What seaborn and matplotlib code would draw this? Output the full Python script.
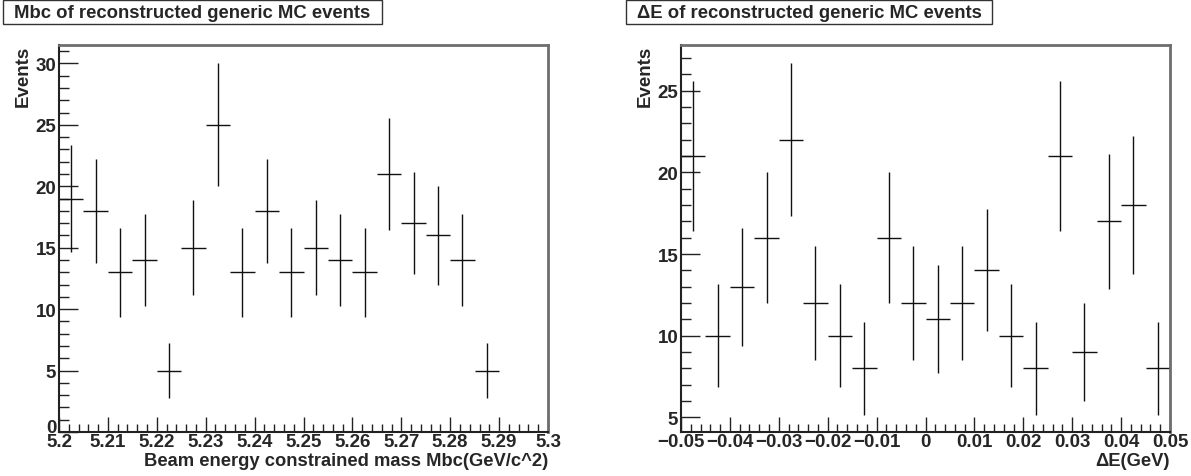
import numpy as np
import pandas as pd
import matplotlib
matplotlib.use("Agg")
import matplotlib.pyplot as plt
import matplotlib.transforms as mtransforms
from matplotlib.patches import Rectangle
import seaborn as sns
from matplotlib.ticker import MultipleLocator

# ---- data ----
mbc_centers = [5.2025, 5.2075, 5.2125, 5.2175, 5.2225, 5.2275, 5.2325, 5.2375, 5.2425,
               5.2475, 5.2525, 5.2575, 5.2625, 5.2675, 5.2725, 5.2775, 5.2825, 5.2875]
mbc_counts = [19, 18, 13, 14, 5, 15, 25, 13, 18, 13, 15, 14, 13, 21, 17, 16, 14, 5]
mbc_ticks = [5.2, 5.21, 5.22, 5.23, 5.24, 5.25, 5.26, 5.27, 5.28, 5.29, 5.3]
mbc_ticklabels = ["5.2", "5.21", "5.22", "5.23", "5.24", "5.25", "5.26", "5.27", "5.28", "5.29", "5.3"]

de_centers = [-0.0475, -0.0425, -0.0375, -0.0325, -0.0275, -0.0225, -0.0175, -0.0125, -0.0075, -0.0025,
              0.0025, 0.0075, 0.0125, 0.0175, 0.0225, 0.0275, 0.0325, 0.0375, 0.0425, 0.0475]
de_counts = [21, 10, 13, 16, 22, 12, 10, 8, 16, 12, 11, 12, 14, 10, 8, 21, 9, 17, 18, 8]
de_ticks = [-0.05, -0.04, -0.03, -0.02, -0.01, 0, 0.01, 0.02, 0.03, 0.04, 0.05]
de_ticklabels = ["\u22120.05", "\u22120.04", "\u22120.03", "\u22120.02", "\u22120.01", "0",
                 "0.01", "0.02", "0.03", "0.04", "0.05"]

bin_width = 0.005

sns.set_theme(style="white")
plt.rcParams['font.family'] = ['Liberation Sans', 'DejaVu Sans']
plt.rcParams['font.weight'] = 'bold'

fig = plt.figure(figsize=(11.91, 4.77), dpi=100)
W, H = 1191, 477

def make_axes(x0, x1, y0, y1):
    return fig.add_axes([x0 / W, 1 - y1 / H, (x1 - x0) / W, (y1 - y0) / H])

ax1 = make_axes(59, 548, 46, 433)
ax2 = make_axes(681, 1170, 46, 433)

frame_col = "#6e6e6e"

def draw(ax, centers, counts, xlim, ylim, ticks, ticklabels, xlabel, title, box):
    df = pd.DataFrame({"x": centers, "n": counts})
    df["err"] = np.sqrt(df["n"])
    ax.errorbar(df["x"], df["n"], yerr=df["err"], xerr=bin_width / 2, fmt='none',
                ecolor="#111111", elinewidth=1.0, capsize=0)
    ax.set_xlim(*xlim)
    ax.set_ylim(*ylim)
    ax.set_xticks(ticks)
    ax.set_xticklabels(ticklabels)
    ax.xaxis.set_minor_locator(MultipleLocator(0.002))
    ax.yaxis.set_major_locator(MultipleLocator(5))
    ax.yaxis.set_minor_locator(MultipleLocator(1))
    ax.tick_params(axis='x', which='major', direction='in', length=11, width=1, color="#222222",
                   labelsize=13.5, pad=1, top=False, bottom=True)
    ax.tick_params(axis='x', which='minor', direction='in', length=5.5, width=1, color="#222222",
                   top=False, bottom=True)
    ax.tick_params(axis='y', which='major', direction='in', length=14, width=1, color="#222222",
                   labelsize=13.5, pad=2, left=True, right=False)
    ax.tick_params(axis='y', which='minor', direction='in', length=7, width=1, color="#222222",
                   left=True, right=False)
    for lab in ax.get_xticklabels() + ax.get_yticklabels():
        lab.set_fontweight('bold')
    for name, s in ax.spines.items():
        if name in ("top", "right"):
            s.set_color(frame_col)
            s.set_linewidth(2)
        else:
            s.set_color("#222222")
            s.set_linewidth(1.5)
    ax.set_xlabel(xlabel, loc='right', fontsize=13.2, fontweight='bold', labelpad=1)
    ax.set_ylabel("Events", loc='top', fontsize=13.5, fontweight='bold', labelpad=3)
    # title box
    bx0, bx1, by0, by1 = box
    fig.patches.append(Rectangle((bx0 / W, 1 - by1 / H), (bx1 - bx0) / W, (by1 - by0) / H,
                                 transform=fig.transFigure, facecolor='white',
                                 edgecolor='#333333', linewidth=1))
    fig.text((bx0 + bx1) / 2 / W, 1 - (by0 + by1) / 2 / H, title, fontsize=13.3, fontweight='bold',
             ha='center', va='center')

draw(ax1, mbc_centers, mbc_counts, (5.2, 5.3), (0, 31.5), mbc_ticks, mbc_ticklabels,
     "Beam energy constrained mass Mbc(GeV/c^2)", "Mbc of reconstructed generic MC events",
     (3, 382, 1, 25))
draw(ax2, de_centers, de_counts, (-0.05, 0.05), (4.1, 27.8), de_ticks, de_ticklabels,
     "\u0394E(GeV)", "\u0394E of reconstructed generic MC events", (626, 992, 1, 25))

# lift the "0" label of the left panel slightly, as in the reference
fig.canvas.draw()
for lab in ax1.get_yticklabels():
    if lab.get_text() == "0":
        lab.set_transform(mtransforms.offset_copy(lab.get_transform(), fig=fig, x=0, y=6, units='dots'))

fig.savefig("out.png", dpi=100)
